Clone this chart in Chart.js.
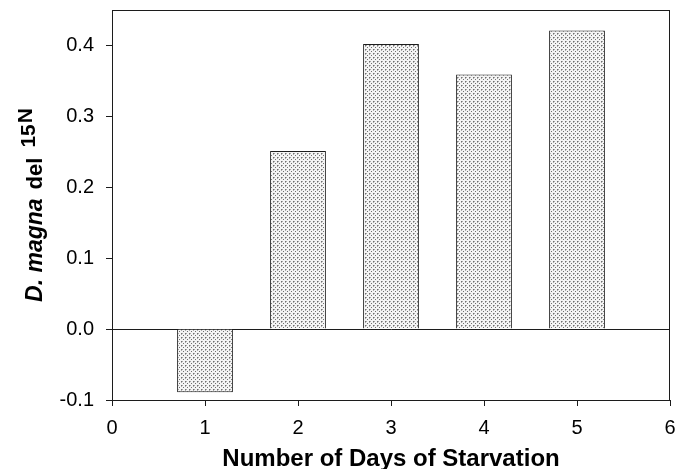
<!DOCTYPE html>
<html>
<head>
<meta charset="utf-8">
<script src="https://cdn.jsdelivr.net/npm/chart.js@4.4.1/dist/chart.umd.min.js"></script>
<style>
  html, body { margin: 0; padding: 0; background: #fff; }
  #wrap { width: 679px; height: 469px; position: relative; }
</style>
</head>
<body>
<div id="wrap"><canvas id="chart"></canvas></div>
<script>
// Data
const days = [1, 2, 3, 4, 5];
const delN15 = [-0.089, 0.251, 0.402, 0.359, 0.421];
const xTicks = [0, 1, 2, 3, 4, 5, 6];
const yTicks = [-0.1, 0.0, 0.1, 0.2, 0.3, 0.4];
const xTitle = "Number of Days of Starvation";

const FONT = "Arial, 'Liberation Sans', Helvetica, sans-serif";
const INK = "#1c1c1c";

// stippled grey fill like the scanned bars
function makeStipple() {
  const c = document.createElement("canvas");
  c.width = 4;
  c.height = 4;
  const g = c.getContext("2d");
  g.fillStyle = "#f4f4f4";
  g.fillRect(0, 0, 4, 4);
  g.fillStyle = "#707070";
  g.fillRect(1, 1, 1, 1);
  g.fillRect(3, 3, 1, 1);
  g.fillStyle = "#aaaaaa";
  g.fillRect(2, 1, 1, 1);
  g.fillRect(1, 2, 1, 1);
  return g.createPattern(c, "repeat");
}

// frame round the plot area
const frame = {
  id: "frame",
  afterDatasetsDraw(chart) {
    const { ctx, chartArea: a } = chart;
    ctx.save();
    ctx.strokeStyle = INK;
    ctx.lineWidth = 1;
    ctx.strokeRect(a.left + 0.5, a.top + 0.5, a.right - a.left - 1, a.bottom - a.top);
    ctx.restore();
  },
};

// y title with italic species name and superscript
const yTitle = {
  id: "yTitle",
  afterDraw(chart) {
    const ctx = chart.ctx;
    const parts = [
      { t: "D. magna", f: "italic bold 23px " + FONT, dy: 0, gap: 9 },
      { t: "del", f: "bold 22px " + FONT, dy: 0, gap: 10 },
      { t: "15", f: "bold 21px " + FONT, dy: -7, gap: 1 },
      { t: "N", f: "bold 21px " + FONT, dy: -10, gap: 0 },
    ];
    ctx.save();
    let total = 0;
    parts.forEach((p) => {
      ctx.font = p.f;
      p.w = ctx.measureText(p.t).width;
      total += p.w + p.gap;
    });
    const cy = (chart.chartArea.top + chart.chartArea.bottom) / 2;
    ctx.translate(42, cy);
    ctx.rotate(-Math.PI / 2);
    ctx.fillStyle = "#000";
    ctx.textBaseline = "alphabetic";
    ctx.textAlign = "left";
    let x = -total / 2;
    parts.forEach((p) => {
      ctx.font = p.f;
      ctx.fillText(p.t, x, p.dy);
      x += p.w + p.gap;
    });
    ctx.restore();
  },
};

new Chart(document.getElementById("chart"), {
  type: "bar",
  data: {
    datasets: [
      {
        data: days.map((d, i) => ({ x: d, y: delN15[i] })),
        backgroundColor: makeStipple(),
        borderColor: INK,
        borderWidth: 1,
        barPercentage: 0.6,
        categoryPercentage: 1,
      },
    ],
  },
  options: {
    animation: false,
    responsive: true,
    maintainAspectRatio: false,
    layout: { padding: { left: 0, right: 9, top: 10, bottom: 0 } },
    plugins: {
      legend: { display: false },
      tooltip: { enabled: false },
    },
    scales: {
      x: {
        type: "linear",
        min: 0,
        max: 6,
        offset: false,
        afterBuildTicks: (s) => { s.ticks = xTicks.map((v) => ({ value: v })); },
        afterFit: (s) => {
          s.height = 69;
          s.paddingLeft = 0;
          s.paddingRight = 0;
        },
        grid: {
          offset: false,
          drawOnChartArea: false,
          drawTicks: true,
          tickLength: 6,
          tickColor: INK,
        },
        border: { display: true, color: INK, width: 1 },
        ticks: {
          color: "#000",
          padding: 10,
          maxRotation: 0,
          font: { family: FONT, size: 20 },
          callback: (v) => String(v),
        },
        title: {
          display: true,
          text: xTitle,
          color: "#000",
          font: { family: FONT, size: 24, weight: "bold", lineHeight: 1 },
          padding: { top: 0, bottom: -2 },
        },
      },
      y: {
        min: -0.1,
        max: 0.45,
        afterBuildTicks: (s) => { s.ticks = yTicks.map((v) => ({ value: v })); },
        afterFit: (s) => {
          s.width = 112;
          s.paddingTop = 0;
          s.paddingBottom = 0;
        },
        grid: {
          color: (c) => (c.tick && Math.abs(c.tick.value) < 1e-9 ? INK : "rgba(0,0,0,0)"),
          drawTicks: true,
          tickLength: 6,
          tickColor: INK,
        },
        border: { display: true, color: INK, width: 1 },
        ticks: {
          color: "#000",
          padding: 12,
          font: { family: FONT, size: 20 },
          callback: (v) => Number(v).toFixed(1),
        },
      },
    },
  },
  plugins: [frame, yTitle],
});
</script>
</body>
</html>
